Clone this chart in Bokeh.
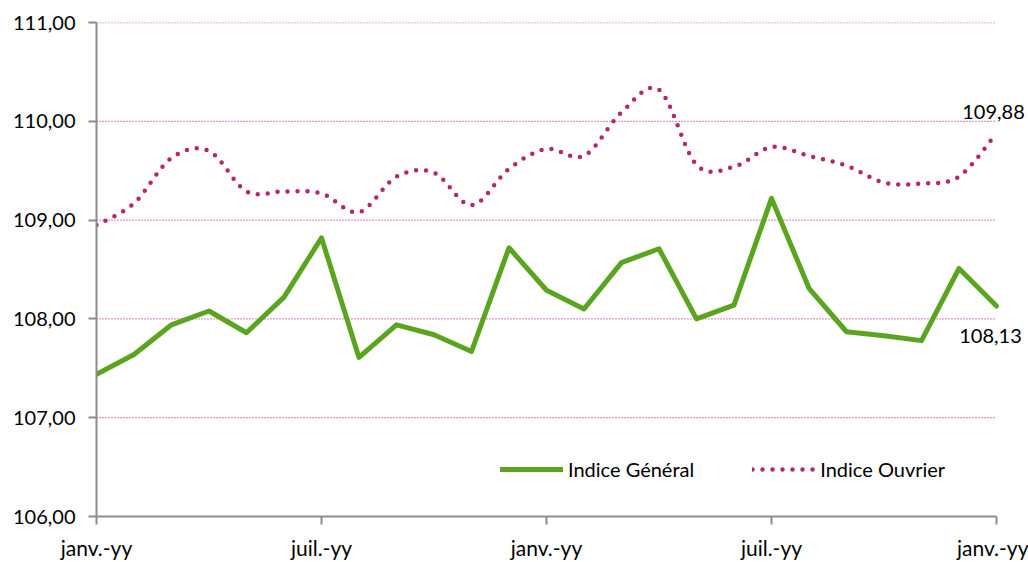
import numpy as np
from bokeh.plotting import figure
from bokeh.models import (FixedTicker, Legend, LegendItem, Label, Range1d)
from bokeh.embed import file_html
from bokeh.resources import INLINE

# ---- data ----
months = list(range(25))
indice_general = [107.44, 107.64, 107.94, 108.08, 107.86, 108.22, 108.82, 107.61,
                  107.94, 107.84, 107.67, 108.72, 108.29, 108.10, 108.57, 108.71,
                  108.00, 108.14, 109.22, 108.31, 107.87, 107.83, 107.78, 108.51,
                  108.13]
indice_ouvrier = [108.95, 109.17, 109.63, 109.70, 109.29, 109.29, 109.27, 109.08,
                  109.44, 109.48, 109.15, 109.52, 109.72, 109.65, 110.09, 110.32,
                  109.56, 109.54, 109.74, 109.65, 109.55, 109.38, 109.37, 109.44,
                  109.88]
y_ticks = [106, 107, 108, 109, 110, 111]
y_tick_labels = ["106,00", "107,00", "108,00", "109,00", "110,00", "111,00"]
x_ticks = [0, 6, 12, 18, 24]
x_tick_labels = ["janv.-yy", "juil.-yy", "janv.-yy", "juil.-yy", "janv.-yy"]
last_general_label = "108,13"
last_ouvrier_label = "109,88"

GREEN = "#5AA41F"
MAGENTA = "#B4266F"
GRID = "#C8329A"
AXIS = "#8C8C8C"
FONT = "Lato"
FS = "20px"


def smooth(xs, ys, n=16):
    """Excel-like smoothed line (Bezier through the points)."""
    xs = np.asarray(xs, float)
    ys = np.asarray(ys, float)
    px = np.concatenate([[xs[0]], xs, [xs[-1]]])
    py = np.concatenate([[ys[0]], ys, [ys[-1]]])
    ox, oy = [], []
    t = np.linspace(0, 1, n, endpoint=False)
    for i in range(1, len(px) - 2):
        p0 = np.array([px[i], py[i]])
        p3 = np.array([px[i + 1], py[i + 1]])
        c1 = p0 + (np.array([px[i + 1], py[i + 1]]) - np.array([px[i - 1], py[i - 1]])) / 6.0
        c2 = p3 - (np.array([px[i + 2], py[i + 2]]) - np.array([px[i], py[i]])) / 6.0
        for tt in t:
            b = ((1 - tt) ** 3) * p0 + 3 * ((1 - tt) ** 2) * tt * c1 + 3 * (1 - tt) * tt ** 2 * c2 + tt ** 3 * p3
            ox.append(b[0]); oy.append(b[1])
    ox.append(xs[-1]); oy.append(ys[-1])
    return ox, oy


x_end = x_ticks[-1]
p = figure(width=1028, height=562, output_backend="svg", toolbar_location=None,
           x_range=Range1d(0, x_end + 32 / 37.5), y_range=Range1d(106, 111),
           min_border_left=96, min_border_right=0, min_border_top=22,
           min_border_bottom=43)
p.outline_line_color = None
p.background_fill_color = "white"

# grid (drawn only across the plotted months)
p.xgrid.grid_line_color = None
p.ygrid.grid_line_color = None
grid_y = y_ticks[1:]
p.segment(x0=[months[0]] * len(grid_y), x1=[x_end] * len(grid_y),
          y0=grid_y, y1=grid_y, line_color=GRID, line_width=1.3,
          line_dash="1 2", level="underlay")

# axes
for ax in (p.xaxis[0], p.yaxis[0]):
    ax.axis_line_color = AXIS
    ax.axis_line_width = 2
    ax.major_tick_line_color = AXIS
    ax.major_tick_line_width = 2
    ax.major_tick_out = 8
    ax.major_tick_in = 0
    ax.minor_tick_line_color = None
    ax.major_label_text_font = FONT
    ax.major_label_text_font_size = FS
    ax.major_label_text_color = "#000000"

p.yaxis.ticker = FixedTicker(ticks=y_ticks)
p.yaxis.major_label_overrides = dict(zip(y_ticks, y_tick_labels))
p.yaxis.major_label_standoff = 13
p.xaxis.ticker = FixedTicker(ticks=x_ticks)
p.xaxis.major_label_overrides = dict(zip(x_ticks, x_tick_labels))
p.xaxis.major_label_standoff = 10
p.xaxis.major_label_text_font_size = "21px"
p.xaxis.bounds = (0, x_end)

# series
r_gen = p.line(months, indice_general, line_color=GREEN, line_width=5,
               line_join="round", line_cap="round")
sx, sy = smooth(months, indice_ouvrier)
r_ouv = p.line(sx, sy, line_color=MAGENTA, line_width=4.5,
               line_dash="0 10", line_cap="round", line_join="round")

# end labels
p.add_layout(Label(x=months[-1], y=indice_ouvrier[-1], text=last_ouvrier_label,
                   x_offset=-3, y_offset=21, text_align="center",
                   text_baseline="middle", text_font=FONT,
                   text_font_size=FS, text_color="#000000"))
p.add_layout(Label(x=months[-1], y=indice_general[-1], text=last_general_label,
                   x_offset=-6, y_offset=-30, text_align="center",
                   text_baseline="middle", text_font=FONT,
                   text_font_size=FS, text_color="#000000"))

legend = Legend(items=[LegendItem(label="Indice Général", renderers=[r_gen]),
                       LegendItem(label="Indice Ouvrier", renderers=[r_ouv])],
                orientation="horizontal", location=(404, 35),
                glyph_width=63, glyph_height=20, label_standoff=5,
                spacing=58, padding=0, margin=0,
                label_text_font=FONT, label_text_font_size=FS,
                label_text_color="#000000",
                border_line_color=None, background_fill_alpha=0)
p.add_layout(legend)

open("out.html", "w").write(file_html(p, INLINE))
